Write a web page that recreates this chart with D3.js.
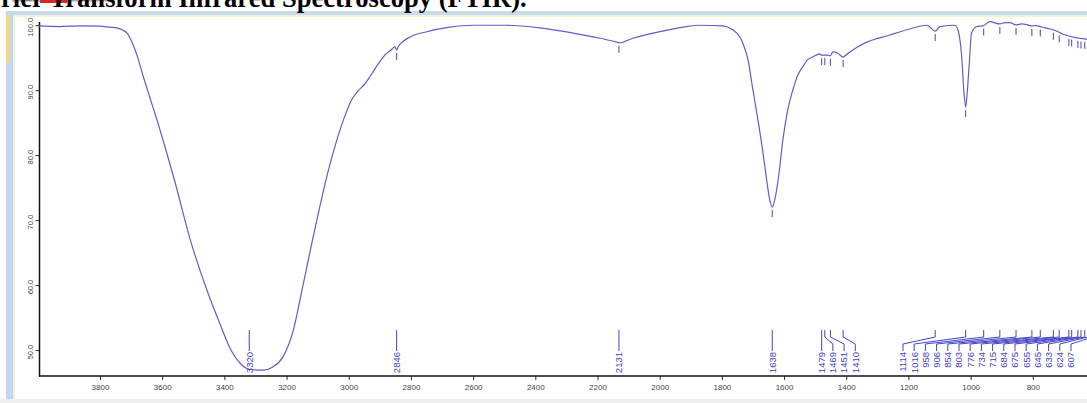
<!DOCTYPE html>
<html>
<head>
<meta charset="utf-8">
<title>FTIR spectrum</title>
<script src="https://d3js.org/d3.v7.min.js"></script>
<style>
  body { margin: 0; background: #fff; }
  svg { display: block; }
  text { font-family: "Liberation Sans", Arial, sans-serif; }
</style>
</head>
<body>
<script>

var width = 1087,
    height = 403;

// spectrum: wavenumber (cm-1) and transmittance (%)
var wavenumber = [3996, 3929, 3864, 3800, 3768, 3745, 3729, 3713, 3697, 3681, 3662, 3639, 3614, 3591, 3559, 3511, 3456, 3414, 3382, 3350, 3318, 3276, 3244, 3212, 3179, 3147, 3118, 3092, 3067, 3041, 3015, 2993, 2970, 2951, 2929, 2903, 2880, 2861, 2852, 2846, 2840, 2835, 2803, 2749, 2675, 2601, 2491, 2385, 2279, 2192, 2138, 2131, 2086, 2000, 1925, 1871, 1797, 1765, 1742, 1733, 1716, 1700, 1684, 1669, 1656, 1646, 1638, 1630, 1617, 1604, 1588, 1572, 1556, 1540, 1524, 1508, 1485, 1479, 1469, 1459, 1451, 1443, 1427, 1410, 1404, 1379, 1334, 1260, 1205, 1141, 1114, 1099, 1051, 1041, 1028, 1022, 1016, 1011, 1005, 997, 980, 958, 938, 906, 890, 874, 854, 835, 816, 803, 790, 776, 761, 734, 715, 704, 684, 675, 665, 655, 645, 633, 624, 607, 600];
var transmittance = [99.9, 99.8, 99.9, 99.85, 99.7, 99.6, 99.3, 98.8, 97.4, 95.4, 92.3, 88.8, 85.0, 81.3, 75.9, 67.2, 59.2, 54.0, 50.3, 48.0, 47.0, 46.9, 47.4, 48.9, 52.9, 60.0, 66.6, 72.3, 77.4, 81.9, 85.7, 88.3, 89.9, 90.8, 92.3, 94.2, 95.6, 96.3, 96.7, 96.2, 96.8, 97.1, 98.2, 99.0, 99.7, 100.0, 100.0, 99.6, 98.8, 98.0, 97.4, 97.3, 98.0, 99.0, 99.7, 100.0, 99.9, 99.3, 98.2, 97.3, 94.7, 90.0, 85.4, 80.8, 76.2, 73.1, 72.0, 73.1, 76.9, 82.3, 87.0, 90.0, 92.3, 93.6, 94.7, 95.1, 95.6, 95.4, 95.4, 95.4, 95.3, 95.9, 95.7, 95.1, 95.3, 96.2, 97.4, 98.5, 99.3, 100.0, 99.1, 99.8, 100.0, 99.3, 94.7, 90.0, 87.4, 89.6, 93.6, 98.8, 99.8, 99.95, 100.55, 100.2, 100.4, 100.4, 100.05, 100.2, 100.05, 99.9, 99.95, 99.8, 99.6, 99.3, 98.9, 98.65, 98.35, 98.25, 98.1, 98.05, 97.95, 97.9, 97.8, 97.75, 97.73];

// peaks picked by the software
var peaks = [3320, 2846, 2131, 1638, 1479, 1469, 1451, 1410, 1114, 1016, 958, 906, 854, 803, 776, 734, 715, 684, 675, 655, 645, 633, 624, 607];

var xTicks = [3800, 3600, 3400, 3200, 3000, 2800, 2600, 2400, 2200, 2000, 1800, 1600, 1400, 1200, 1000, 800, 600];
var yTicks = [50, 60, 70, 80, 90, 100];

var lineColor = '#5e5ecb',
    labelColor = '#4343c6';

var svg = d3.select('body')
  .append('svg')
  .attr('width', width)
  .attr('height', height);

// window chrome around the plot
svg.append('rect').attr('x', 7).attr('y', 11).attr('width', width).attr('height', 4).attr('fill', '#c4dbf2');
svg.append('rect').attr('x', 7).attr('y', 15).attr('width', width).attr('height', 2).attr('fill', '#f6f1cf');
svg.append('rect').attr('x', 6).attr('y', 11).attr('width', 7).attr('height', height).attr('fill', '#c0d8f4');
svg.append('rect').attr('x', 6).attr('y', 15).attr('width', 4).attr('height', 48).attr('fill', '#f2d889');
svg.append('rect').attr('x', 13).attr('y', 15).attr('width', 2).attr('height', height).attr('fill', '#f3f0d6');
svg.append('rect').attr('x', 0).attr('y', 399).attr('width', width).attr('height', 4).attr('fill', '#eeeeee');
svg.append('rect').attr('x', 12).attr('y', 0).attr('width', 98).attr('height', 1.5).attr('fill', '#aaaaaa');
svg.append('rect').attr('x', 40).attr('y', 0).attr('width', 27).attr('height', 3).attr('fill', '#d9262a');

svg.append('text')
  .attr('x', 1)
  .attr('y', 7)
  .style('font-family', '"Liberation Serif", "Times New Roman", serif')
  .style('font-weight', 'bold')
  .style('font-size', '26.6px')
  .attr('fill', '#000')
  .text('rier Transform Infrared Spectroscopy (FTIR).');

var x = d3.scaleLinear()
  .domain([4000, 600])
  .range([37.8, 1095]);

var y = d3.scaleLinear()
  .domain([46, 100.5])
  .range([376, 22]);

// axes
var xAxis = svg.append('g')
  .attr('transform', 'translate(0,376)')
  .call(d3.axisBottom(x).tickValues(xTicks).tickSize(4).tickSizeOuter(0).tickFormat(d3.format('d')));
xAxis.select('.domain').remove();
xAxis.selectAll('line').attr('stroke', '#333');
xAxis.selectAll('text').attr('fill', '#444').style('font-size', '8px').attr('dy', '0.9em');

var yAxis = svg.append('g')
  .attr('transform', 'translate(39.5,0)')
  .call(d3.axisLeft(y).tickValues(yTicks).tickSize(4).tickSizeOuter(0));
yAxis.select('.domain').remove();
yAxis.selectAll('line').attr('stroke', '#333');
yAxis.selectAll('text').remove();

yAxis.selectAll('.ylab')
  .data(yTicks)
  .enter()
  .append('text')
  .attr('class', 'ylab')
  .attr('transform', function(d) { return 'translate(-9.5,' + (y(d) + 2) + ') rotate(-90)'; })
  .attr('text-anchor', 'middle')
  .attr('dy', '0.35em')
  .attr('fill', '#444')
  .style('font-size', '7.5px')
  .text(function(d) { return d3.format('.1f')(d); });

svg.append('line').attr('x1', 39.5).attr('x2', 39.5).attr('y1', 22).attr('y2', 376.7)
  .attr('stroke', '#111').attr('stroke-width', 1.5);
svg.append('line').attr('x1', 39).attr('x2', width).attr('y1', 376).attr('y2', 376)
  .attr('stroke', '#111').attr('stroke-width', 1.5);

// spectrum
var points = wavenumber.map(function(w, i) { return [w, transmittance[i]]; });

var line = d3.line()
  .x(function(d) { return x(d[0]); })
  .y(function(d) { return y(d[1]); })
  .curve(d3.curveMonotoneX);

svg.append('path')
  .datum(points)
  .attr('fill', 'none')
  .attr('stroke', lineColor)
  .attr('stroke-width', 1.2)
  .attr('d', line);

function tAt(w) {
  for (var i = 1; i < points.length; i++) {
    var a = points[i - 1], b = points[i];
    if (w <= a[0] && w >= b[0]) {
      return a[1] + (b[1] - a[1]) * (a[0] - w) / (a[0] - b[0]);
    }
  }
  return points[points.length - 1][1];
}

// label layout: push apart, then pull back from the right edge
var gap = 11.2, rightLimit = 1071;
var lx = peaks.map(function(p) { return x(p); });
for (var i = 1; i < lx.length; i++) lx[i] = Math.max(lx[i], lx[i - 1] + gap);
lx[lx.length - 1] = Math.min(lx[lx.length - 1], rightLimit);
for (var j = lx.length - 2; j >= 0; j--) lx[j] = Math.min(lx[j], lx[j + 1] - gap);

var marks = svg.append('g');

// little ticks hanging under the curve
marks.selectAll('.ptick')
  .data(peaks.filter(function(p) { return y(tAt(p)) + 12 < 376; }))
  .enter()
  .append('line')
  .attr('class', 'ptick')
  .attr('x1', function(d) { return x(d); })
  .attr('x2', function(d) { return x(d); })
  .attr('y1', function(d) { return y(tAt(d)) + 3; })
  .attr('y2', function(d) { return y(tAt(d)) + 10; })
  .attr('stroke', labelColor)
  .attr('stroke-width', 1);

marks.selectAll('.lead')
  .data(peaks)
  .enter()
  .append('path')
  .attr('class', 'lead')
  .attr('fill', 'none')
  .attr('stroke', labelColor)
  .attr('stroke-width', 1)
  .attr('d', function(d, i) {
    var px = x(d);
    return 'M' + px + ',330V337L' + lx[i] + ',344V351';
  });

marks.selectAll('.plab')
  .data(peaks)
  .enter()
  .append('text')
  .attr('class', 'plab')
  .attr('transform', function(d, i) { return 'translate(' + lx[i] + ',352) rotate(-90)'; })
  .attr('text-anchor', 'end')
  .attr('dy', '0.35em')
  .attr('fill', labelColor)
  .style('font-size', '9.5px')
  .text(function(d) { return d; });

</script>
</body>
</html>
